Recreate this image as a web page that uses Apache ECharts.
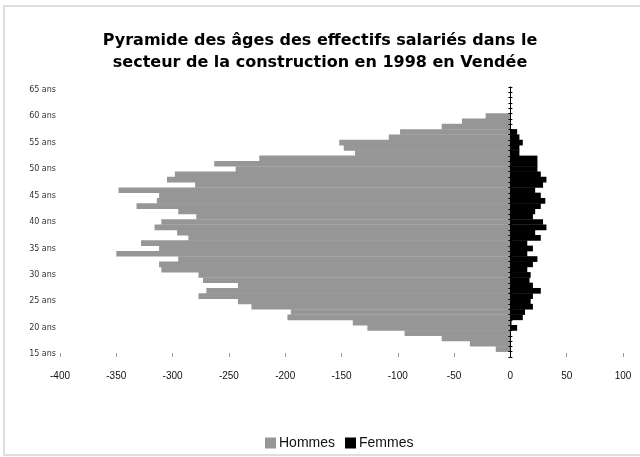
<!DOCTYPE html>
<html>
<head>
<meta charset="utf-8">
<script src="https://cdn.jsdelivr.net/npm/echarts@6/dist/echarts.min.js"></script>
<style>
  html, body { margin: 0; padding: 0; background: #fff; }
  #chart { width: 640px; height: 457px; }
</style>
</head>
<body>
<div id="chart"></div>
<script>
// ages 15 .. 65, one bar per age
var ages = [15, 16, 17, 18, 19, 20, 21, 22, 23, 24, 25, 26, 27, 28, 29, 30, 31, 32, 33, 34,
  35, 36, 37, 38, 39, 40, 41, 42, 43, 44, 45, 46, 47, 48, 49, 50, 51, 52, 53, 54,
  55, 56, 57, 58, 59, 60, 61, 62, 63, 64, 65]
// hommes drawn on the negative side
var hommes = [0, -13, -36, -61, -94, -127, -140, -198, -195, -230, -242, -277, -270, -242, -273,
  -277, -310, -312, -295, -350, -312, -328, -286, -296, -316, -310, -279, -295, -332, -314,
  -312, -348, -280, -305, -298, -244, -263, -223, -138, -148, -152, -108, -98, -61, -43,
  -22, 0, 0, 0, 0, 0]
var femmes = [0, 0, 0, 0, 0, 6, 1, 11, 13, 20, 18, 20, 27, 20, 17, 18, 15, 20, 24, 15,
  20, 15, 27, 22, 32, 29, 20, 22, 27, 31, 27, 22, 29, 32, 27, 24, 24, 24, 8, 8,
  11, 8, 6, 0, 0, 0, 0, 0, 0, 0, 0]
var xTicks = { min: -400, max: 100, step: 50 }

var chart = echarts.init(document.getElementById('chart'))

// zero line of the age axis, ticks on one side
function zeroAxis(position, xIndex) {
  return {
    type: 'category',
    data: ages,
    position: position,
    z: 5,
    axisLine: { show: true, onZero: true, onZeroAxisIndex: xIndex, lineStyle: { color: '#000', width: 1 } },
    axisTick: { show: true, interval: 0, length: 2, lineStyle: { color: '#000' } },
    axisLabel: { show: false },
    splitLine: { show: false }
  }
}

chart.setOption({
  animation: false,
  title: {
    text: 'Pyramide des âges des effectifs salariés dans le\nsecteur de la construction en 1998 en Vendée',
    left: 'center',
    top: 25,
    textStyle: {
      fontFamily: 'DejaVu Sans',
      fontWeight: 'bold',
      fontSize: 16,
      lineHeight: 22,
      color: '#000'
    }
  },
  legend: {
    left: 260,
    top: 431,
    itemWidth: 11,
    itemHeight: 11,
    itemGap: 10,
    icon: 'rect',
    textStyle: { fontFamily: 'Liberation Sans', fontSize: 14, color: '#111', padding: [0, 0, 0, -2] },
    data: ['Hommes', 'Femmes']
  },
  grid: { left: 60, right: 17, top: 87, bottom: 100, containLabel: false },
  xAxis: [
    {
      type: 'value',
      min: xTicks.min,
      max: xTicks.max,
      interval: xTicks.step,
      position: 'bottom',
      axisLine: { onZero: false, lineStyle: { color: '#9a9a9a', width: 1 } },
      axisTick: { show: true, inside: true, length: 4, lineStyle: { color: '#9a9a9a' } },
      axisLabel: { fontFamily: 'Liberation Sans', fontSize: 10, color: '#111', margin: 14 },
      splitLine: { show: false }
    },
    {
      // hidden twin, only used to put the second tick row on zero
      type: 'value',
      min: xTicks.min,
      max: xTicks.max,
      interval: xTicks.step,
      position: 'top',
      show: false
    }
  ],
  yAxis: [
    {
      // labels on the left
      type: 'category',
      data: ages,
      position: 'left',
      axisLine: { show: false, onZero: false },
      axisTick: { show: false },
      axisLabel: {
        interval: 4,
        margin: 4,
        fontFamily: 'DejaVu Sans',
        fontSize: 8,
        color: '#333',
        formatter: function (v) { return v + ' ans' }
      },
      splitLine: { show: false }
    },
    zeroAxis('left', 0),
    zeroAxis('right', 1)
  ],
  graphic: [
    {
      type: 'rect',
      shape: { x: 4, y: 6, width: 660, height: 449 },
      style: { fill: 'none', stroke: '#dedede', lineWidth: 2 },
      silent: true
    }
  ],
  series: [
    {
      name: 'Hommes',
      type: 'bar',
      yAxisIndex: 0,
      data: hommes,
      barWidth: '108%',
      barGap: '-100%',
      itemStyle: { color: '#969696', borderWidth: 0 }
    },
    {
      name: 'Femmes',
      type: 'bar',
      yAxisIndex: 0,
      data: femmes,
      barWidth: '108%',
      barGap: '-100%',
      itemStyle: { color: '#000', borderWidth: 0 }
    }
  ]
})
</script>
</body>
</html>
